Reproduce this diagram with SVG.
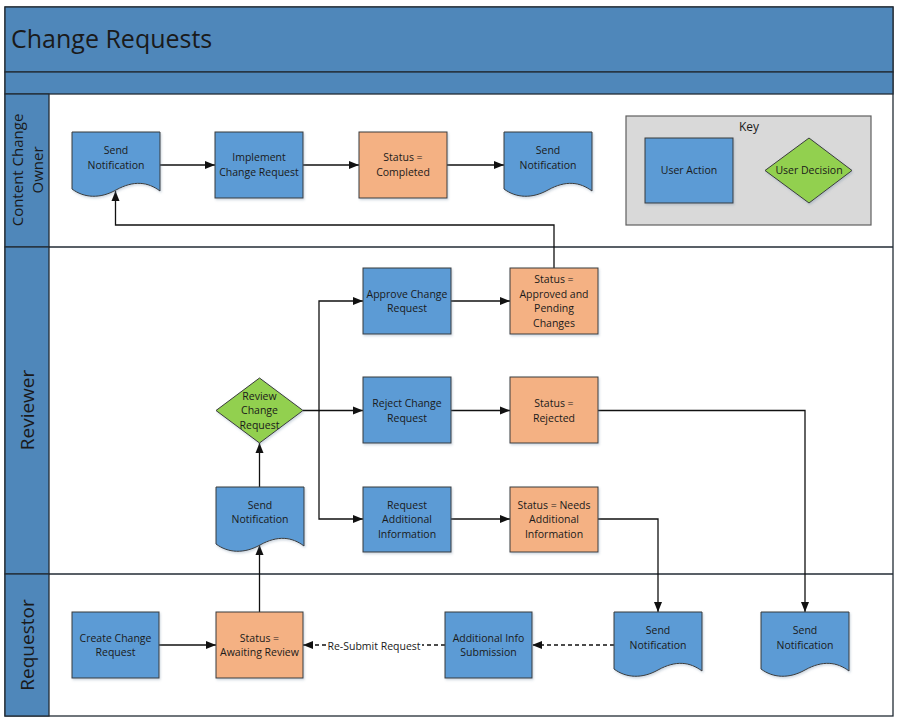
<svg xmlns="http://www.w3.org/2000/svg" xmlns:xlink="http://www.w3.org/1999/xlink" width="899" height="723" viewBox="0 0 899 723">
  <style>
    text { font-family: "Open Sans", "Noto Sans", "Liberation Sans", sans-serif; fill: #1a1a1a; }
    .lbl { font-size: 10.5px; text-anchor: middle; }
    .lane { font-size: 19px; text-anchor: middle; }
    .band { fill: #4f87ba; stroke: #222b35; stroke-width: 1.3; }
    .sep { stroke: #222b35; stroke-width: 1.5; }
    .act { fill: #5b9bd5; stroke: #3b3b3b; stroke-width: 1; filter: url(#sh); }
    .stat { fill: #f4b183; stroke: #3b3b3b; stroke-width: 1; filter: url(#sh); }
    .dec { fill: #92d050; stroke: #3b3b3b; stroke-width: 1; filter: url(#sh); }
    .con { fill: none; stroke: #111; stroke-width: 1.3; }
    .dash { stroke-dasharray: 4 3; }
    .arr { marker-end: url(#arrow); }
  </style>
  <defs>
    <filter id="sh" x="-10%" y="-10%" width="125%" height="130%">
      <feDropShadow dx="1" dy="1.5" stdDeviation="1.2" flood-color="#6f87a3" flood-opacity="0.35"/>
    </filter>
    <marker id="arrow" viewBox="0 0 10 10" refX="10" refY="5" markerWidth="10" markerHeight="10" markerUnits="userSpaceOnUse" orient="auto">
      <path d="M0,1 L10,5 L0,9 Z" fill="#111"/>
    </marker>
    <!-- document (wavy bottom) outline, 88 x 66 -->
    <path id="doc" d="M0,0 H88 V59 C76,50 62,48 44,58 C28,67 12,66 0,57 Z"/>
  </defs>

  <!-- pool frame, title and lanes -->
  <g id="pool">
    <rect x="5" y="7" width="888" height="709" fill="#ffffff" stroke="#222b35" stroke-width="1.3"/>
    <rect class="band" x="5" y="7" width="888" height="65"/>
    <rect class="band" x="5" y="72" width="888" height="22"/>
    <text x="11" y="48" style="font-size:25px;">Change Requests</text>
    <rect class="band" x="5" y="94" width="44" height="153"/>
    <rect class="band" x="5" y="247" width="44" height="327"/>
    <rect class="band" x="5" y="574" width="44" height="142"/>
    <line class="sep" x1="49" y1="247" x2="893" y2="247"/>
    <line class="sep" x1="49" y1="574" x2="893" y2="574"/>
    <text transform="translate(23,170) rotate(-90)" style="font-size:15px;text-anchor:middle;">Content Change</text>
    <text transform="translate(43,170) rotate(-90)" style="font-size:15px;text-anchor:middle;">Owner</text>
    <text class="lane" transform="translate(34,410) rotate(-90)">Reviewer</text>
    <text class="lane" transform="translate(34,645) rotate(-90)">Requestor</text>
  </g>

  <!-- legend -->
  <g id="key">
    <rect x="626" y="116" width="245" height="109" fill="#d9d9d9" stroke="#5f5f5f" stroke-width="1.2"/>
    <text x="749" y="131" style="font-size:12px;text-anchor:middle;">Key</text>
    <rect class="act" x="645" y="138" width="88" height="65"/>
    <text class="lbl" x="689" y="174">User Action</text>
    <polygon class="dec" points="809,138 852,170.5 809,203 765,170.5"/>
    <text class="lbl" x="809" y="174">User Decision</text>
  </g>

  <!-- connectors -->
  <g id="connectors">
    <path class="con arr" d="M159,165 H215"/>
    <path class="con arr" d="M303,165 H359"/>
    <path class="con arr" d="M447,165 H504"/>
    <path class="con arr" d="M554,268 V225 H115.5 V191"/>
    <path class="con arr" d="M259.5,487 V443"/>
    <path class="con arr" d="M259.5,612 V545"/>
    <path class="con arr" d="M303,410.5 H319 V301 H363"/>
    <path class="con arr" d="M319,410.5 H363"/>
    <path class="con arr" d="M319,410.5 V519 H363"/>
    <path class="con arr" d="M451,301 H510"/>
    <path class="con arr" d="M451,410.5 H510"/>
    <path class="con arr" d="M451,519 H510"/>
    <path class="con arr" d="M598,410.5 H805 V612"/>
    <path class="con arr" d="M598,519 H658 V612"/>
    <path class="con arr" d="M159,645 H216"/>
    <path class="con dash arr" d="M614,645 H532"/>
    <path class="con dash arr" d="M445,645 H303"/>
    <rect x="328" y="638" width="94" height="14" fill="#ffffff"/>
    <text class="lbl" x="374" y="650">Re-Submit Request</text>
  </g>

  <!-- Content Change Owner lane -->
  <g id="n-owner-notify">
    <use xlink:href="#doc" href="#doc" class="act" transform="translate(72,132)"/>
    <text class="lbl" x="116" y="154">Send</text>
    <text class="lbl" x="116" y="169">Notification</text>
  </g>
  <g id="n-implement">
    <rect class="act" x="215" y="132" width="88" height="66"/>
    <text class="lbl" x="259" y="161">Implement</text>
    <text class="lbl" x="259" y="176">Change Request</text>
  </g>
  <g id="n-completed">
    <rect class="stat" x="359" y="132" width="88" height="66"/>
    <text class="lbl" x="403" y="161">Status =</text>
    <text class="lbl" x="403" y="176">Completed</text>
  </g>
  <g id="n-owner-notify-2">
    <use xlink:href="#doc" href="#doc" class="act" transform="translate(504,132)"/>
    <text class="lbl" x="548" y="154">Send</text>
    <text class="lbl" x="548" y="169">Notification</text>
  </g>

  <!-- Reviewer lane -->
  <g id="n-review">
    <polygon class="dec" points="259.5,378 303,410.5 259.5,443 216,410.5"/>
    <text class="lbl" x="259.5" y="400">Review</text>
    <text class="lbl" x="259.5" y="414">Change</text>
    <text class="lbl" x="259.5" y="429">Request</text>
  </g>
  <g id="n-reviewer-notify">
    <use xlink:href="#doc" href="#doc" class="act" transform="translate(216,487)"/>
    <text class="lbl" x="260" y="509">Send</text>
    <text class="lbl" x="260" y="523">Notification</text>
  </g>
  <g id="n-approve">
    <rect class="act" x="363" y="268" width="88" height="66"/>
    <text class="lbl" x="407" y="298">Approve Change</text>
    <text class="lbl" x="407" y="312">Request</text>
  </g>
  <g id="n-approved">
    <rect class="stat" x="510" y="268" width="88" height="66"/>
    <text class="lbl" x="554" y="283">Status =</text>
    <text class="lbl" x="554" y="298">Approved and</text>
    <text class="lbl" x="554" y="312">Pending</text>
    <text class="lbl" x="554" y="327">Changes</text>
  </g>
  <g id="n-reject">
    <rect class="act" x="363" y="377" width="88" height="66"/>
    <text class="lbl" x="407" y="407">Reject Change</text>
    <text class="lbl" x="407" y="422">Request</text>
  </g>
  <g id="n-rejected">
    <rect class="stat" x="510" y="377" width="88" height="66"/>
    <text class="lbl" x="554" y="407">Status =</text>
    <text class="lbl" x="554" y="422">Rejected</text>
  </g>
  <g id="n-request-info">
    <rect class="act" x="363" y="487" width="88" height="65"/>
    <text class="lbl" x="407" y="509">Request</text>
    <text class="lbl" x="407" y="523">Additional</text>
    <text class="lbl" x="407" y="538">Information</text>
  </g>
  <g id="n-needs-info">
    <rect class="stat" x="510" y="487" width="88" height="65"/>
    <text class="lbl" x="554" y="509">Status = Needs</text>
    <text class="lbl" x="554" y="523">Additional</text>
    <text class="lbl" x="554" y="538">Information</text>
  </g>

  <!-- Requestor lane -->
  <g id="n-create">
    <rect class="act" x="72" y="612" width="87" height="66"/>
    <text class="lbl" x="115.5" y="642">Create Change</text>
    <text class="lbl" x="115.5" y="656">Request</text>
  </g>
  <g id="n-awaiting">
    <rect class="stat" x="216" y="612" width="87" height="66"/>
    <text class="lbl" x="259.5" y="642">Status =</text>
    <text class="lbl" x="259.5" y="656">Awaiting Review</text>
  </g>
  <g id="n-info-submission">
    <rect class="act" x="445" y="612" width="87" height="66"/>
    <text class="lbl" x="488.5" y="642">Additional Info</text>
    <text class="lbl" x="488.5" y="656">Submission</text>
  </g>
  <g id="n-requestor-notify">
    <use xlink:href="#doc" href="#doc" class="act" transform="translate(614,612)"/>
    <text class="lbl" x="658" y="634">Send</text>
    <text class="lbl" x="658" y="649">Notification</text>
  </g>
  <g id="n-requestor-notify-2">
    <use xlink:href="#doc" href="#doc" class="act" transform="translate(761,612)"/>
    <text class="lbl" x="805" y="634">Send</text>
    <text class="lbl" x="805" y="649">Notification</text>
  </g>
</svg>
